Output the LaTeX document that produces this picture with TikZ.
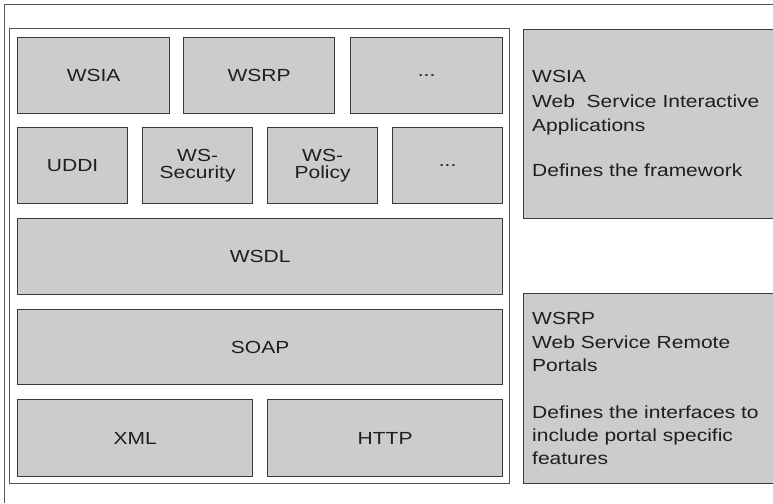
\documentclass[tikz,border=0pt]{standalone}
\usepackage{fontspec}
\setmainfont[FakeStretch=1.2]{Liberation Sans}
\definecolor{boxfill}{HTML}{CCCCCC}
\definecolor{boxline}{HTML}{3A3A3A}
\definecolor{frameline}{HTML}{555555}
\definecolor{txt}{HTML}{1E1E1E}
\begin{document}
\begin{tikzpicture}[x=1pt,y=-1pt,
  blk/.style={draw=boxline, fill=boxfill, line width=1.2pt, inner sep=0pt,
    anchor=north west, align=center, text=txt,
    font=\fontsize{17.5}{17.5}\selectfont},
  desc/.style={inner sep=0pt, anchor=north west, align=left, text=txt},
  frame/.style={draw=frameline, line width=1pt}]
\useasboundingbox (0,0) rectangle (773,503);
\fill[white] (0,0) rectangle (773,503);
\draw[frame] (4,503) -- (4,5) -- (773,5);
\draw[frame] (9.5,29) rectangle (509,483);
% stack
\node[blk, minimum width=152pt, minimum height=76pt] (wsia) at (17,37) {WSIA};
\node[blk, minimum width=151pt, minimum height=76pt] (wsrp) at (183,37) {WSRP};
\node[blk, minimum width=152pt, minimum height=76pt] (dotsa) at (350,37) {...};
\node[blk, minimum width=110pt, minimum height=76pt] (uddi) at (17,127) {UDDI};
\node[blk, minimum width=110pt, minimum height=76pt] (wssec) at (142,127) {WS-\\Security};
\node[blk, minimum width=110pt, minimum height=76pt] (wspol) at (267,127) {WS-\\Policy};
\node[blk, minimum width=110pt, minimum height=76pt] (dotsb) at (392,127) {...};
\node[blk, minimum width=485pt, minimum height=76pt] (wsdl) at (17,218) {WSDL};
\node[blk, minimum width=485pt, minimum height=75pt] (soap) at (17,309) {SOAP};
\node[blk, minimum width=235pt, minimum height=77pt] (xml) at (17,399) {XML};
\node[blk, minimum width=235pt, minimum height=77pt] (http) at (267,399) {HTTP};
% descriptions
\node[blk, minimum width=249.5pt, minimum height=189pt] (descabox) at (523,29) {};
\node[blk, minimum width=249.5pt, minimum height=190pt] (descbbox) at (523,293) {};
\node[desc, font=\fontsize{17.5}{24.5}\selectfont] (desca) at (532,70.2)
  {WSIA\\Web~~Service Interactive\\Applications\\[20.5pt]Defines the framework};
\node[desc, font=\fontsize{17.5}{23.3}\selectfont] (descb) at (532,312.5)
  {WSRP\\Web Service Remote\\Portals\\[23.3pt]Defines the interfaces to\\include portal specific\\features};
\end{tikzpicture}
\end{document}
